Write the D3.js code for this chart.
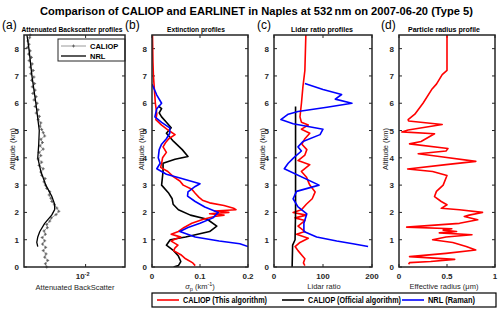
<!DOCTYPE html>
<html><head><meta charset="utf-8">
<script src="https://cdn.jsdelivr.net/npm/d3@7"></script>
<style>
body{margin:0;background:#fff}
text{font-family:"Liberation Sans",Arial,sans-serif}
</style></head>
<body><svg id="c" width="500" height="314" font-family="Liberation Sans, Arial, sans-serif"></svg>
<script>
// ---------- data ----------
const altTicks = [0,1,2,3,4,5,6,7,8];
const panelTitles = ["Attenuated Backscatter profiles","Extinction profiles","Lidar ratio profiles","Particle radius profile"];
const panelLetters = ["(a)","(b)","(c)","(d)"];
const extTicks = [0,0.1,0.2], extTickLabels = ["0","0.1","0.2"];
const lrTicks = [0,100,200], lrTickLabels = ["0","100","200"];
const radTicks = [0,0.5,1], radTickLabels = ["0","0.5","1"];

// (a) attenuated backscatter (x1e-3)
const bsCaliopAlt = [0,0.12,0.24,0.36,0.48,0.6,0.72,0.84,0.96,1.08,1.2,1.32,1.44,1.56,1.68,1.8,1.92,2.04,2.16,2.28,2.4,2.52,2.64,2.76,2.88,3,3.12,3.24,3.36,3.48,3.6,3.72,3.84,3.96,4.08,4.2,4.32,4.44,4.56,4.68,4.8,4.92,5.04,5.16,5.28,5.4,5.52,5.64,5.76,5.88,6,6.12,6.24,6.36,6.48,6.6,6.72,6.84,6.96,7.08,7.2,7.32,7.44,7.56,7.68,7.8,7.92,8.04,8.16,8.28,8.4,8.5];
const bsCaliop = [1.70,1.60,1.78,1.55,1.65,1.45,1.62,1.40,1.55,1.38,1.60,1.50,1.75,1.70,1.95,2.10,2.60,2.95,2.70,2.40,2.15,2.05,1.90,1.95,1.70,1.60,1.50,1.58,1.35,1.30,1.45,1.20,1.35,1.15,1.30,1.20,1.45,1.25,1.40,1.30,1.55,1.45,1.35,1.25,1.30,1.15,1.22,1.05,1.15,1.00,1.10,0.95,1.05,0.90,1.00,0.88,0.98,0.85,0.95,0.82,0.92,0.80,0.88,0.76,0.85,0.74,0.80,0.70,0.76,0.72,0.78,0.80];
const bsNrlAlt = [0.75,0.9,1.1,1.3,1.6,1.9,2.1,2.3,2.6,3.0,3.5,4.0,4.5,5.0,6.0,7.0,8.0,8.5];
const bsNrl = [1.13,1.08,1.13,1.24,1.55,2.13,2.44,2.44,2.13,1.63,1.30,1.13,1.18,1.21,1.036,0.865,0.755,0.69];

// (b) extinction (km^-1)
const extRedAlt = [8.5,7.5,7.0,6.5,6.0,5.6,5.4,5.2,5.0,4.85,4.7,4.55,4.4,4.2,4.0,3.8,3.65,3.5,3.3,3.15,3.0,2.85,2.7,2.55,2.45,2.35,2.25,2.15,2.1,2.05,2.0,1.95,1.9,1.85,1.75,1.6,1.45,1.3,1.2,1.15,1.1,1.0,0.95,0.8,0.7,0.6,0.45,0.3,0.15,0.05];
const extRed = [0.001,0.002,0.003,0.005,0.007,0.010,0.008,0.020,0.035,0.048,0.035,0.028,0.023,0.030,0.022,0.020,0.018,0.033,0.045,0.058,0.065,0.083,0.090,0.098,0.105,0.12,0.15,0.17,0.175,0.13,0.16,0.12,0.15,0.13,0.107,0.083,0.067,0.055,0.04,0.05,0.06,0.045,0.04,0.054,0.048,0.045,0.06,0.07,0.085,0.09];
const extBlackAlt = [5.9,5.8,5.65,5.5,5.3,5.1,4.9,4.6,4.3,4.05,3.95,3.8,3.5,3.0,2.7,2.5,2.3,2.1,1.9,1.75,1.5,1.3,1.1,1.0,0.8,0.6,0.4,0.2,0.05,0];
const extBlack = [0.013,0.02,0.015,0.02,0.03,0.04,0.03,0.045,0.063,0.075,0.048,0.023,0.023,0.02,0.035,0.042,0.044,0.055,0.08,0.115,0.135,0.12,0.07,0.038,0.03,0.045,0.055,0.06,0.055,0.045];
const extBlueAlt = [6.7,6.3,6.0,5.8,5.5,5.3,5.1,4.9,4.7,4.5,4.3,4.0,3.8,3.6,3.4,3.25,3.05,2.95,2.75,2.6,2.4,2.2,2.0,1.8,1.6,1.45,1.3,1.1,0.95,0.85,0.75];
const extBlue = [0,0.01,0.02,0.01,0.006,0.02,0.037,0.037,0.03,0.02,0.015,0.013,0.017,0.01,0.03,0.06,0.1,0.09,0.075,0.074,0.09,0.11,0.138,0.127,0.1,0.075,0.058,0.09,0.14,0.183,0.2];

// (c) lidar ratio (sr)
const lrRedAlt = [8.5,7.2,6.6,6.0,5.5,5.3,5.2,5.05,4.9,4.7,4.5,4.3,4.1,3.9,3.75,3.5,3.3,3.0,2.75,2.5,2.3,2.1,2.0,1.9,1.8,1.7,1.5,1.3,1.2,1.05,0.9,0.75,0.6,0.45,0.3,0.15,0.05];
const lrRed = [65,63,59,56,53,56,70,56,73,63,57,67,63,49,73,56,66,73,84,78,66,56,39,66,43,63,49,63,46,70,53,43,49,56,63,60,63];
const lrBlackAlt = [5.88,4,2,1.0,0.8,0];
const lrBlack = [44,44,44,43,38,37];
const lrBlueAlt = [6.72,6.5,6.32,6.15,6.0,5.85,5.7,5.6,5.4,5.25,5.05,4.85,4.6,4.4,4.25,4.0,3.8,3.6,3.0,2.77,2.5,2.2,1.95,1.6,1.3,1.1,0.95,0.85,0.75];
const lrBlue = [63,100,138,125,159,108,49,29,14,39,100,94,59,49,56,40,29,21,92,46,39,49,67,61,61,87,128,161,192];

// (d) effective radius (um)
const radAlt = [8.5,7.2,7.05,6.7,6.5,6.0,5.6,5.4,5.35,5.22,5.02,4.95,4.88,4.6,4.51,4.34,4.25,4.15,4.05,3.87,3.75,3.59,3.5,3.35,3.0,2.77,2.58,2.4,2.28,2.15,2.1,2.0,1.9,1.85,1.73,1.6,1.46,1.4,1.35,1.3,1.25,1.18,1.1,1.0,0.9,0.75,0.62,0.5,0.38,0.28,0.2,0.16,0.1];
const radRed = [0.5,0.5,0.45,0.39,0.34,0.25,0.165,0.095,0.1,0.45,0.095,0.03,0.37,0.23,0.11,0.51,0.49,0.2,0.42,0.8,0.49,0.09,0.35,0.5,0.46,0.39,0.37,0.44,0.5,0.44,0.63,0.87,0.73,0.68,0.82,0.63,0.08,0.55,0.46,0.6,0.42,0.76,0.49,0.35,0.56,0.7,0.8,0.49,0.11,0.58,0.33,0.11,0.1];

const legendLabels = ["CALIOP (This algorithm)","CALIOP (Official algorithm)","NRL (Raman)"];
const seriesColors = ["#ff0000","#000000","#0000ff"];

// ---------- drawing ----------
const svg = d3.select("#c");
const AX = "#262626";
const y = d3.scaleLinear().domain([0,8.5]).range([267,35]);
// compress horizontally to the reference width (never stretch)
function fit(sel, w){
  const len = sel.node().getComputedTextLength();
  if (len > w) sel.attr("textLength", w).attr("lengthAdjust","spacingAndGlyphs");
  return sel;
}
// shrink font size to the reference width
function fitSize(sel, w){
  const len = sel.node().getComputedTextLength();
  const fs = parseFloat(sel.attr("font-size"));
  if (len > w) sel.attr("font-size", (fs*w/len).toFixed(2));
  return sel;
}

fit(svg.append("text").attr("x",256.5).attr("y",15).attr("text-anchor","middle")
  .attr("font-size",11.3).attr("font-weight","bold").attr("fill","#000")
  .text("Comparison of CALIOP and EARLINET in Naples at 532\u2009nm on 2007-06-20 (Type 5)"), 433);

const titleCx = [72,196,322,444];
const titleW = [101,58,62,72];
const panels = [
  {l:24,r:125,x:d3.scaleLog().domain([0.000603,0.0603]),ticks:[0.01],labels:null,labX:2,ylabX:12},
  {l:152,r:248,x:d3.scaleLinear().domain([0,0.2]),ticks:extTicks,labels:extTickLabels,labX:125,ylabX:141},
  {l:274,r:372,x:d3.scaleLinear().domain([0,200]),ticks:lrTicks,labels:lrTickLabels,labX:257,ylabX:262},
  {l:399,r:495,x:d3.scaleLinear().domain([0,1]),ticks:radTicks,labels:radTickLabels,labX:381,ylabX:385}
];
panels.forEach((p,i)=>{
  p.x.range([p.l,p.r]);
  const g = svg.append("g");
  const cid = "clip"+i;
  svg.append("clipPath").attr("id",cid).append("rect").attr("x",p.l).attr("y",35).attr("width",p.r-p.l).attr("height",232);
  p.g = g; p.clip = "url(#"+cid+")";
  const tt = svg.append("text").attr("x",titleCx[i]).attr("y",31.5).attr("text-anchor","middle")
    .attr("font-size",7.8).attr("font-weight","bold").attr("fill","#000").text(panelTitles[i]);
  if (i === 0) fitSize(tt, titleW[i]); else fit(tt, titleW[i]);
  svg.append("text").attr("x",p.labX).attr("y",29).attr("font-size",12).attr("fill","#000").text(panelLetters[i]);
  altTicks.forEach(t=>{
    const yy = y(t);
    g.append("line").attr("x1",p.l).attr("x2",p.l+3).attr("y1",yy).attr("y2",yy).attr("stroke",AX).attr("stroke-width",1);
    g.append("line").attr("x1",p.r).attr("x2",p.r-3).attr("y1",yy).attr("y2",yy).attr("stroke",AX).attr("stroke-width",1);
    svg.append("text").attr("x",p.l-5).attr("y",yy+3).attr("text-anchor","end").attr("font-size",8)
      .attr("font-weight","bold").attr("fill",AX).text(t);
  });
  p.ticks.forEach((t,k)=>{
    const xx = p.x(t);
    g.append("line").attr("x1",xx).attr("x2",xx).attr("y1",267).attr("y2",264).attr("stroke",AX);
    g.append("line").attr("x1",xx).attr("x2",xx).attr("y1",35).attr("y2",38).attr("stroke",AX);
    if(p.labels){
      svg.append("text").attr("x",xx).attr("y",279).attr("text-anchor","middle").attr("font-size",8)
        .attr("font-weight","bold").attr("fill",AX).text(p.labels[k]);
    }
  });
  fit(svg.append("text").attr("transform",`translate(${p.ylabX+2.5},149) rotate(-90)`).attr("text-anchor","middle")
    .attr("font-size",7.5).attr("fill",AX).text("Altitude (km)"), 48);
});

{
  const p = panels[0];
  const t = svg.append("text").attr("x",p.x(0.01)-3).attr("y",279).attr("text-anchor","middle").attr("font-size",8).attr("font-weight","bold").attr("fill",AX);
  t.append("tspan").text("10");
  t.append("tspan").attr("dy",-3.5).attr("font-size",5.5).text("-2");
}

fit(svg.append("text").attr("x",75).attr("y",290).attr("text-anchor","middle").attr("font-size",7.5).attr("fill",AX).text("Attenuated BackScatter"), 84);
{
  const t = svg.append("text").attr("x",200).attr("y",289).attr("text-anchor","middle").attr("font-size",7.5).attr("fill",AX);
  t.append("tspan").attr("font-style","italic").text("\u03c3");
  t.append("tspan").attr("dy",2).attr("font-size",5.5).text("p");
  t.append("tspan").attr("dy",-2).text(" (km");
  t.append("tspan").attr("dy",-3).attr("font-size",5.5).text("-1");
  t.append("tspan").attr("dy",3).text(")");
}
fit(svg.append("text").attr("x",324).attr("y",289).attr("text-anchor","middle").attr("font-size",7.5).attr("fill",AX).text("Lidar ratio"), 36);
fit(svg.append("text").attr("x",444).attr("y",289).attr("text-anchor","middle").attr("font-size",7.5).attr("fill",AX).text("Effective radius (\u03bcm)"), 78);

function drawLine(p, alts, vals, color, w){
  const pts = alts.map((a,i)=>[p.x(vals[i]), y(a)]);
  p.g.append("path").attr("d",d3.line()(pts)).attr("fill","none").attr("stroke",color)
    .attr("stroke-width",w).attr("stroke-linejoin","round").attr("clip-path",p.clip);
  return pts;
}
{
  const p = panels[0];
  const pa = p.x.copy(); p.x = v=>pa(v*1e-3);
  const pts = drawLine(p, bsCaliopAlt, bsCaliop, "#9a9a9a", 1);
  p.g.selectAll(".mk").data(pts).enter().append("path")
    .attr("d",d=>`M${d[0]-1.5},${d[1]}h3M${d[0]},${d[1]-1.5}v3`).attr("stroke","#555").attr("stroke-width",0.8);
  drawLine(p, bsNrlAlt, bsNrl, "#000", 1.3);
  p.g.append("rect").attr("x",58).attr("y",39).attr("width",67).attr("height",22).attr("fill","#fff").attr("stroke","#262626").attr("stroke-width",1);
  p.g.append("line").attr("x1",61).attr("x2",86).attr("y1",46).attr("y2",46).attr("stroke","#9a9a9a").attr("stroke-width",1);
  p.g.append("path").attr("d","M72,46h3M73.5,44.5v3").attr("stroke","#555").attr("stroke-width",0.8);
  p.g.append("line").attr("x1",61).attr("x2",86).attr("y1",56).attr("y2",56).attr("stroke","#000").attr("stroke-width",1.3);
  fit(svg.append("text").attr("x",90).attr("y",49).attr("font-size",7.5).attr("font-weight","bold").text("CALIOP"), 29);
  fit(svg.append("text").attr("x",90).attr("y",59).attr("font-size",7.5).attr("font-weight","bold").text("NRL"), 16);
}
drawLine(panels[1], extBlackAlt, extBlack, seriesColors[1], 1.6);
drawLine(panels[1], extRedAlt, extRed, seriesColors[0], 1.6);
drawLine(panels[1], extBlueAlt, extBlue, seriesColors[2], 1.6);
drawLine(panels[2], lrRedAlt, lrRed, seriesColors[0], 1.6);
drawLine(panels[2], lrBlackAlt, lrBlack, seriesColors[1], 1.6);
drawLine(panels[2], lrBlueAlt, lrBlue, seriesColors[2], 1.6);
drawLine(panels[3], radAlt, radRed, seriesColors[0], 1.6);

panels.forEach(p=>{
  svg.append("rect").attr("x",p.l).attr("y",35).attr("width",p.r-p.l).attr("height",232)
    .attr("fill","none").attr("stroke",AX).attr("stroke-width",1.5);
});

svg.append("rect").attr("x",152).attr("y",293).attr("width",344).attr("height",14).attr("fill","#fff").attr("stroke","#000").attr("stroke-width",1.2);
const legX = [157,282,402];
const legW = [84,93,47];
legendLabels.forEach((lab,i)=>{
  svg.append("line").attr("x1",legX[i]).attr("x2",legX[i]+22).attr("y1",300).attr("y2",300).attr("stroke",seriesColors[i]).attr("stroke-width",1.6);
  fit(svg.append("text").attr("x",legX[i]+26).attr("y",303).attr("font-size",8.2).attr("font-weight","bold").attr("fill","#000").text(lab), legW[i]);
});
</script></body></html>
